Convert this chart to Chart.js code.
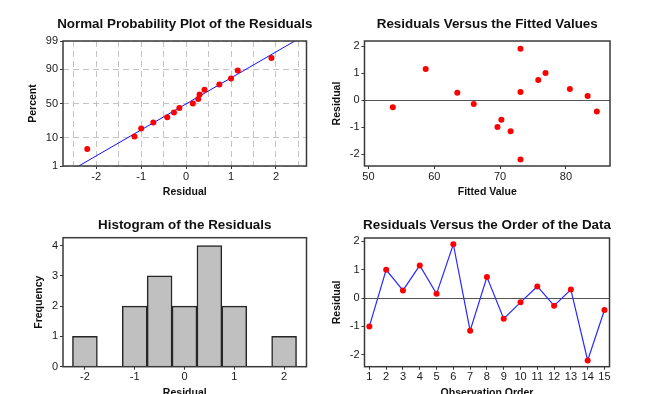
<!DOCTYPE html>
<html>
<head>
<meta charset="utf-8">
<script src="https://cdn.jsdelivr.net/npm/chart.js@4.4.1/dist/chart.umd.min.js"></script>
<style>
  html, body { margin: 0; padding: 0; background: #fff; width: 645px; height: 394px; overflow: hidden; }
  canvas { position: absolute; }
</style>
</head>
<body>
<canvas id="c1" width="322" height="200" style="left:0;top:0;width:322px;height:200px"></canvas>
<canvas id="c2" width="323" height="200" style="left:322px;top:0;width:323px;height:200px"></canvas>
<canvas id="c3" width="322" height="203" style="left:0;top:197px;width:322px;height:203px"></canvas>
<canvas id="c4" width="323" height="203" style="left:322px;top:197px;width:323px;height:203px"></canvas>
<script>
// ---------------- data ----------------
const observationOrder = [1, 2, 3, 4, 5, 6, 7, 8, 9, 10, 11, 12, 13, 14, 15];
const residuals = [-1.0, 1.0, 0.27, 1.15, 0.15, 1.9, -1.15, 0.74, -0.73, -0.15, 0.41, -0.27, 0.3, -2.2, -0.42];
const fittedValues = [69.6, 76.9, 63.5, 58.7, 83.3, 73.1, 71.6, 75.8, 70.2, 66.0, 80.6, 53.7, 73.1, 73.1, 84.7];

// normal probability plot (ordered residuals and their plotted percents)
const probResiduals = [-2.2, -1.15, -1.0, -0.73, -0.42, -0.27, -0.15, 0.15, 0.27, 0.3, 0.41, 0.74, 1.0, 1.15, 1.9];
const probPercents = [4.5, 11, 17.5, 24, 30.5, 37, 43.5, 50, 56.5, 63, 69.5, 76, 82.5, 89, 95.5];
const fitLineResiduals = [-2.39, 2.42];
const fitLinePercents = [1, 99];

// histogram
const binMidpoints = [-2, -1.5, -1, -0.5, 0, 0.5, 1, 1.5, 2];
const binFrequencies = [1, 0, 2, 3, 2, 4, 2, 0, 1];

// tick labels
const percentTicks = [1, 10, 50, 90, 99];
const residualTicksX = [-2, -1, 0, 1, 2];
const probGridX = [-2.5, -2, -1.5, -1, -0.5, 0, 0.5, 1, 1.5, 2, 2.5];
const residualTicksY = [-2, -1, 0, 1, 2];
const fittedTicks = [50, 60, 70, 80];
const freqTicks = [0, 1, 2, 3, 4];

// titles
const titles = ['Normal Probability Plot of the Residuals', 'Residuals Versus the Fitted Values',
                'Histogram of the Residuals', 'Residuals Versus the Order of the Data'];

// ---------------- helpers ----------------
function probit(p) {
  const a = [-3.969683028665376e+01, 2.209460984245205e+02, -2.759285104469687e+02, 1.383577518672690e+02, -3.066479806614716e+01, 2.506628277459239e+00];
  const b = [-5.447609879822406e+01, 1.615858368580409e+02, -1.556989798598866e+02, 6.680131188771972e+01, -1.328068155288572e+01];
  const c = [-7.784894002430293e-03, -3.223964580411365e-01, -2.400758277161838e+00, -2.549732539343734e+00, 4.374664141464968e+00, 2.938163982698783e+00];
  const d = [7.784695709041462e-03, 3.224671290700398e-01, 2.445134137142996e+00, 3.754408661907416e+00];
  const pl = 0.02425, ph = 1 - pl;
  let q, r;
  if (p < pl) {
    q = Math.sqrt(-2 * Math.log(p));
    return (((((c[0]*q+c[1])*q+c[2])*q+c[3])*q+c[4])*q+c[5]) / ((((d[0]*q+d[1])*q+d[2])*q+d[3])*q+1);
  } else if (p <= ph) {
    q = p - 0.5; r = q * q;
    return (((((a[0]*r+a[1])*r+a[2])*r+a[3])*r+a[4])*r+a[5])*q / (((((b[0]*r+b[1])*r+b[2])*r+b[3])*r+b[4])*r+1);
  } else {
    q = Math.sqrt(-2 * Math.log(1 - p));
    return -(((((c[0]*q+c[1])*q+c[2])*q+c[3])*q+c[4])*q+c[5]) / ((((d[0]*q+d[1])*q+d[2])*q+d[3])*q+1);
  }
}

const TXT = '#1a1a1a';
const TICK_FONT = { family: '"Liberation Sans", Arial, sans-serif', size: 11 };

const panelPlugin = {
  id: 'panel',
  beforeDatasetsDraw(chart, args, o) {
    if (!o.zeroLine) return;
    const a = chart.chartArea, ctx = chart.ctx;
    const y = Math.round(chart.scales.y.getPixelForValue(0)) + 0.5;
    ctx.save();
    ctx.strokeStyle = '#555'; ctx.lineWidth = 1.2;
    ctx.beginPath(); ctx.moveTo(a.left, y); ctx.lineTo(a.right, y); ctx.stroke();
    ctx.restore();
  },
  afterDraw(chart, args, o) {
    const a = chart.chartArea, ctx = chart.ctx;
    ctx.save();
    ctx.strokeStyle = '#3a3a3a'; ctx.lineWidth = 1.5;
    ctx.strokeRect(a.left, a.top, a.right - a.left, a.bottom - a.top);
    ctx.fillStyle = '#111';
    ctx.textAlign = 'center'; ctx.textBaseline = 'alphabetic';
    const cx = (a.left + a.right) / 2, cy = (a.top + a.bottom) / 2;
    ctx.font = 'bold 13.4px "Liberation Sans", Arial, sans-serif';
    ctx.fillText(o.title, cx, o.titleY);
    ctx.font = 'bold 10.5px "Liberation Sans", Arial, sans-serif';
    ctx.fillText(o.xTitle, cx, o.xTitleY);
    ctx.translate(o.yTitleX, cy + (o.yShift || 0));
    ctx.rotate(-Math.PI / 2);
    ctx.fillText(o.yTitle, 0, 0);
    ctx.restore();
  }
};

function fixedTicks(arr) {
  return function (scale) { scale.ticks = arr.map(v => ({ value: v })); };
}
function xAxis(min, max, ticks, height, extra) {
  return Object.assign({
    type: 'linear', position: 'bottom', min: min, max: max, offset: false,
    afterBuildTicks: fixedTicks(ticks),
    afterFit: function (s) { s.height = height; },
    border: { display: false },
    grid: { display: true, drawOnChartArea: false, offset: false, tickLength: 3, tickColor: '#333', lineWidth: 1 },
    ticks: { color: TXT, font: TICK_FONT, padding: 1, maxRotation: 0, autoSkip: false }
  }, extra || {});
}
function yAxis(min, max, ticks, width, extra) {
  return Object.assign({
    type: 'linear', position: 'left', min: min, max: max,
    afterBuildTicks: fixedTicks(ticks),
    afterFit: function (s) { s.width = width; },
    border: { display: false },
    grid: { display: true, drawOnChartArea: false, tickLength: 3, tickColor: '#333', lineWidth: 1 },
    ticks: { color: TXT, font: TICK_FONT, padding: 2, autoSkip: false }
  }, extra || {});
}
const baseOpts = {
  responsive: false, maintainAspectRatio: false, animation: false, devicePixelRatio: 1,
  events: []
};

// ---------------- Panel 1: normal probability plot ----------------
const zMin = probit(0.01), zMax = probit(0.99);
new Chart(document.getElementById('c1'), {
  type: 'scatter',
  data: {
    datasets: [
      { data: probResiduals.map((r, i) => ({ x: r, y: probit(probPercents[i] / 100) })),
        pointRadius: 3, pointBackgroundColor: '#ff0000', pointBorderColor: '#ff0000', pointBorderWidth: 0, showLine: false },
      { data: fitLineResiduals.map((r, i) => ({ x: r, y: probit(fitLinePercents[i] / 100) })),
        showLine: true, pointRadius: 0, borderColor: '#1010ff', borderWidth: 1 }
    ]
  },
  options: Object.assign({}, baseOpts, {
    layout: { padding: { left: 0, top: 41, right: 15.5, bottom: 0 } },
    plugins: {
      legend: { display: false }, tooltip: { enabled: false },
      panel: { title: titles[0], titleY: 28.3, xTitle: 'Residual', xTitleY: 194.5, yTitle: 'Percent', yTitleX: 36 }
    },
    scales: {
      x: xAxis(-2.74, 2.68, probGridX, 34, {
        grid: { display: true, drawOnChartArea: true, offset: false, tickLength: 3, lineWidth: 1,
                color: '#c4c4c4',
                tickColor: ctx => (ctx.tick && Number.isInteger(ctx.tick.value)) ? '#333' : 'rgba(0,0,0,0)',
                tickBorderDash: [1, 0] },
        border: { display: false, dash: [6, 4] },
        ticks: { color: TXT, font: TICK_FONT, padding: 1, maxRotation: 0, autoSkip: false,
                 callback: v => Number.isInteger(v) ? String(v) : '' }
      }),
      y: yAxis(zMin, zMax, percentTicks.map(p => probit(p / 100)), 63, {
        grid: { display: true, drawOnChartArea: true, tickLength: 3, lineWidth: 1, color: '#c4c4c4',
                tickColor: '#333', tickBorderDash: [1, 0] },
        border: { display: false, dash: [6, 4] },
        ticks: { color: TXT, font: TICK_FONT, padding: 2, autoSkip: false,
                 callback: (v, i) => String(percentTicks[i]) }
      })
    }
  }),
  plugins: [panelPlugin]
});

// ---------------- Panel 2: residuals vs fitted ----------------
new Chart(document.getElementById('c2'), {
  type: 'scatter',
  data: {
    datasets: [{ data: fittedValues.map((f, i) => ({ x: f, y: residuals[i] })),
      pointRadius: 3, pointBackgroundColor: '#ff0000', pointBorderColor: '#ff0000', pointBorderWidth: 0 }]
  },
  options: Object.assign({}, baseOpts, {
    layout: { padding: { left: 0, top: 41, right: 35, bottom: 0 } },
    plugins: {
      legend: { display: false }, tooltip: { enabled: false },
      panel: { title: titles[1], titleY: 28.3, xTitle: 'Fitted Value', xTitleY: 194.5, yTitle: 'Residual', yTitleX: 18, zeroLine: true }
    },
    scales: {
      x: xAxis(49.4, 86.7, fittedTicks, 34),
      y: yAxis(-2.44, 2.185, residualTicksY, 42.5)
    }
  }),
  plugins: [panelPlugin]
});

// ---------------- Panel 3: histogram ----------------
new Chart(document.getElementById('c3'), {
  type: 'bar',
  data: {
    datasets: [{ data: binMidpoints.map((m, i) => ({ x: m, y: binFrequencies[i] })),
      backgroundColor: '#c0c0c0', borderColor: '#262626', borderWidth: 1.5, borderSkipped: 'start',
      categoryPercentage: 1.0, barPercentage: 1.0 }]
  },
  options: Object.assign({}, baseOpts, {
    layout: { padding: { left: 0, top: 40.7, right: 15.5, bottom: 0 } },
    plugins: {
      legend: { display: false }, tooltip: { enabled: false },
      panel: { title: titles[2], titleY: 31.5, xTitle: 'Residual', xTitleY: 199, yTitle: 'Frequency', yTitleX: 42 }
    },
    scales: {
      x: xAxis(-2.44, 2.45, residualTicksX, 33.3),
      y: yAxis(0, 4.26, freqTicks, 63)
    }
  }),
  plugins: [panelPlugin]
});

// ---------------- Panel 4: residuals vs order ----------------
new Chart(document.getElementById('c4'), {
  type: 'scatter',
  data: {
    datasets: [{ data: observationOrder.map((o, i) => ({ x: o, y: residuals[i] })),
      showLine: true, borderColor: '#2a2aff', borderWidth: 1.2,
      pointRadius: 3, pointBackgroundColor: '#ff0000', pointBorderColor: '#ff0000', pointBorderWidth: 0 }]
  },
  options: Object.assign({}, baseOpts, {
    layout: { padding: { left: 0, top: 41, right: 35.5, bottom: 0 } },
    plugins: {
      legend: { display: false }, tooltip: { enabled: false },
      panel: { title: titles[3], titleY: 31.5, xTitle: 'Observation Order', xTitleY: 199, yTitle: 'Residual', yTitleX: 18, zeroLine: true }
    },
    scales: {
      x: xAxis(0.71, 15.3, observationOrder, 33.3),
      y: yAxis(-2.42, 2.12, residualTicksY, 42.5)
    }
  }),
  plugins: [panelPlugin]
});
</script>
</body>
</html>
